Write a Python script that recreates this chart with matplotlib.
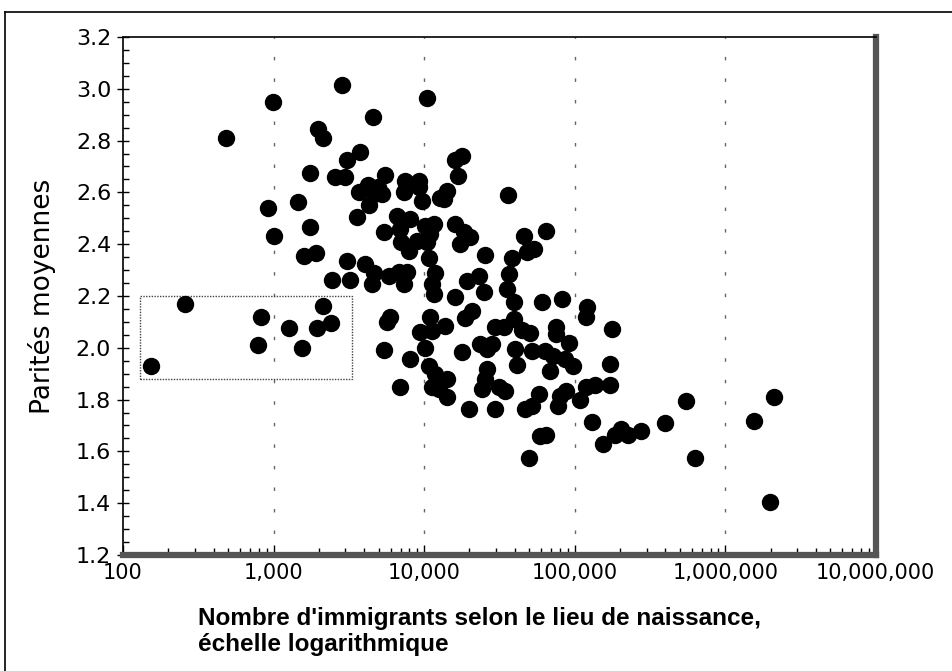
import numpy as np
import matplotlib
matplotlib.use('Agg')
import matplotlib.pyplot as plt
import matplotlib.ticker as tic
from matplotlib.patches import Rectangle
from matplotlib.lines import Line2D

# nombre d'immigrants (échelle log) et parités moyennes
immigrants = [154, 259, 486, 985, 926, 1000, 830, 794, 1260, 1540, 1940, 2120, 2400,
              2840, 10470, 4570, 1970, 2120, 3740, 3070, 1740, 2550, 2970, 5500, 4230,
              3690, 4940, 5250, 4640, 4300, 7470, 9260, 7360, 9700, 12800, 9260, 1445,
              1740, 3580, 5410, 6600, 8070, 6920, 10160, 11660, 7030, 8980, 7940, 10470,
              10960, 1585, 1905, 3070, 4040, 10790,
              2440, 3210, 4640, 4500, 5840, 6810, 7700, 7360, 11840, 11300, 11660, 5930,
              5670, 5410, 8070, 6920, 10960, 9400, 11300, 10160, 10790, 11840, 11300, 12590,
              17910, 16090, 16850, 14230, 13600, 36300, 16090, 18480, 20270, 17380, 25500,
              38600, 46400, 48600, 54100, 65000,
              16090, 19360, 23270, 36900, 35800, 25120, 39800, 60260, 81800, 120000, 118300,
              176400, 20890, 18750, 13800, 29730, 34120, 39800, 45000, 50900, 74700, 74700,
              91200, 23610, 28400, 17910, 26300, 40440, 52480, 63100, 71300, 85700, 97000,
              171000, 41700, 68100, 26300, 25500, 14230, 14230, 24370, 31620, 34670, 58400,
              79430, 87100, 108000, 118300, 135800, 171000, 19950, 29730, 47100, 52480, 77100,
              129700, 59300, 64100, 153800, 184800, 202600, 50100,
              549500, 398000, 275400, 225500, 631000, 1560000, 2122000, 1995000]
parites = [1.93, 2.17, 2.81, 2.95, 2.54, 2.43, 2.12, 2.01, 2.075, 2.00, 2.075, 2.16, 2.095,
           3.015, 2.965, 2.89, 2.845, 2.81, 2.756, 2.725, 2.675, 2.66, 2.66, 2.667, 2.63,
           2.60, 2.62, 2.594, 2.594, 2.55, 2.644, 2.644, 2.60, 2.567, 2.58, 2.62, 2.563,
           2.466, 2.505, 2.447, 2.51, 2.497, 2.458, 2.47, 2.478, 2.41, 2.412, 2.373, 2.41,
           2.44, 2.354, 2.366, 2.335, 2.323, 2.346,
           2.26, 2.26, 2.29, 2.245, 2.277, 2.292, 2.292, 2.245, 2.288, 2.245, 2.207, 2.12,
           2.10, 1.99, 1.955, 1.85, 2.118, 2.06, 2.064, 2.00, 1.93, 1.897, 1.85, 1.84,
           2.74, 2.725, 2.664, 2.606, 2.574, 2.59, 2.478, 2.447, 2.427, 2.40, 2.358,
           2.346, 2.43, 2.37, 2.38, 2.45,
           2.195, 2.257, 2.277, 2.284, 2.226, 2.215, 2.176, 2.176, 2.188, 2.157, 2.118,
           2.072, 2.141, 2.114, 2.083, 2.079, 2.079, 2.11, 2.07, 2.056, 2.079, 2.052,
           2.017, 2.014, 2.014, 1.983, 1.994, 1.994, 1.986, 1.986, 1.967, 1.955, 1.928,
           1.936, 1.932, 1.909, 1.917, 1.878, 1.878, 1.81, 1.84, 1.847, 1.832, 1.82,
           1.812, 1.832, 1.80, 1.85, 1.855, 1.855, 1.762, 1.762, 1.762, 1.774, 1.774,
           1.712, 1.658, 1.665, 1.627, 1.665, 1.685, 1.573,
           1.793, 1.708, 1.68, 1.665, 1.576, 1.716, 1.809, 1.406]

x_ticks = [100, 1000, 10000, 100000, 1000000, 10000000]
x_labels = ['100', '1,000', '10,000', '100,000', '1,000,000', '10,000,000']
y_ticks = [1.2, 1.4, 1.6, 1.8, 2.0, 2.2, 2.4, 2.6, 2.8, 3.0, 3.2]
box_x = [130, 3300]
box_y = [1.88, 2.20]

plt.rcParams['font.family'] = ['DejaVu Sans']

fig = plt.figure(figsize=(9.53, 6.71), dpi=100)
ax = fig.add_axes([0.129, 0.1729, 0.79, 0.772])

ax.set_xscale('log')
ax.set_xlim(100, 1e7)
ax.set_ylim(1.2, 3.2)

for xv in x_ticks[1:-1]:
    ax.axvline(xv, color='#666666', lw=1, ls=(0, (2.5, 13)), zorder=0)

ax.add_patch(Rectangle((box_x[0], box_y[0]), box_x[1] - box_x[0], box_y[1] - box_y[0],
                       fill=False, ec='#444444', lw=1, ls=(0, (1, 1)), zorder=1))

ax.plot(immigrants, parites, 'o', color='black', ms=11.5, mec='black', zorder=3)

ax.set_xticks(x_ticks)
ax.set_xticklabels(x_labels, fontsize=15)
ax.xaxis.set_minor_locator(tic.LogLocator(base=10, subs=np.arange(2, 10)))
ax.xaxis.set_minor_formatter(tic.NullFormatter())
ax.set_yticks(y_ticks)
ax.set_yticklabels(['%.1f' % v for v in y_ticks], fontsize=16)
ax.yaxis.set_minor_locator(tic.MultipleLocator(0.05))

ax.tick_params(axis='x', which='major', direction='in', length=7, width=1, pad=6)
ax.tick_params(axis='x', which='minor', direction='in', length=5, width=1)
ax.tick_params(axis='y', which='major', direction='inout', length=9, width=1, pad=4)
ax.tick_params(axis='y', which='minor', direction='in', length=4, width=1)

for s in ['left', 'top']:
    ax.spines[s].set_linewidth(1.2)
    ax.spines[s].set_color('black')
for s in ['bottom', 'right']:
    ax.spines[s].set_linewidth(4.5)
    ax.spines[s].set_color('#555555')

ax.set_ylabel('Parités moyennes', fontsize=19, labelpad=14)

fig.text(198 / 953, 1 - 607 / 671,
         "Nombre d'immigrants selon le lieu de naissance,\néchelle logarithmique",
         ha='left', va='top', fontsize=17.5, fontweight='bold', linespacing=1.15,
         family=['Liberation Sans', 'DejaVu Sans'])

# cadre extérieur
fig.add_artist(Line2D([5 / 953, 5 / 953], [0, 1 - 12 / 671], color='black', lw=1.2,
                      transform=fig.transFigure))
fig.add_artist(Line2D([5 / 953, 1], [1 - 12 / 671, 1 - 12 / 671], color='black', lw=1.2,
                      transform=fig.transFigure))

fig.savefig('out.png', dpi=100)
